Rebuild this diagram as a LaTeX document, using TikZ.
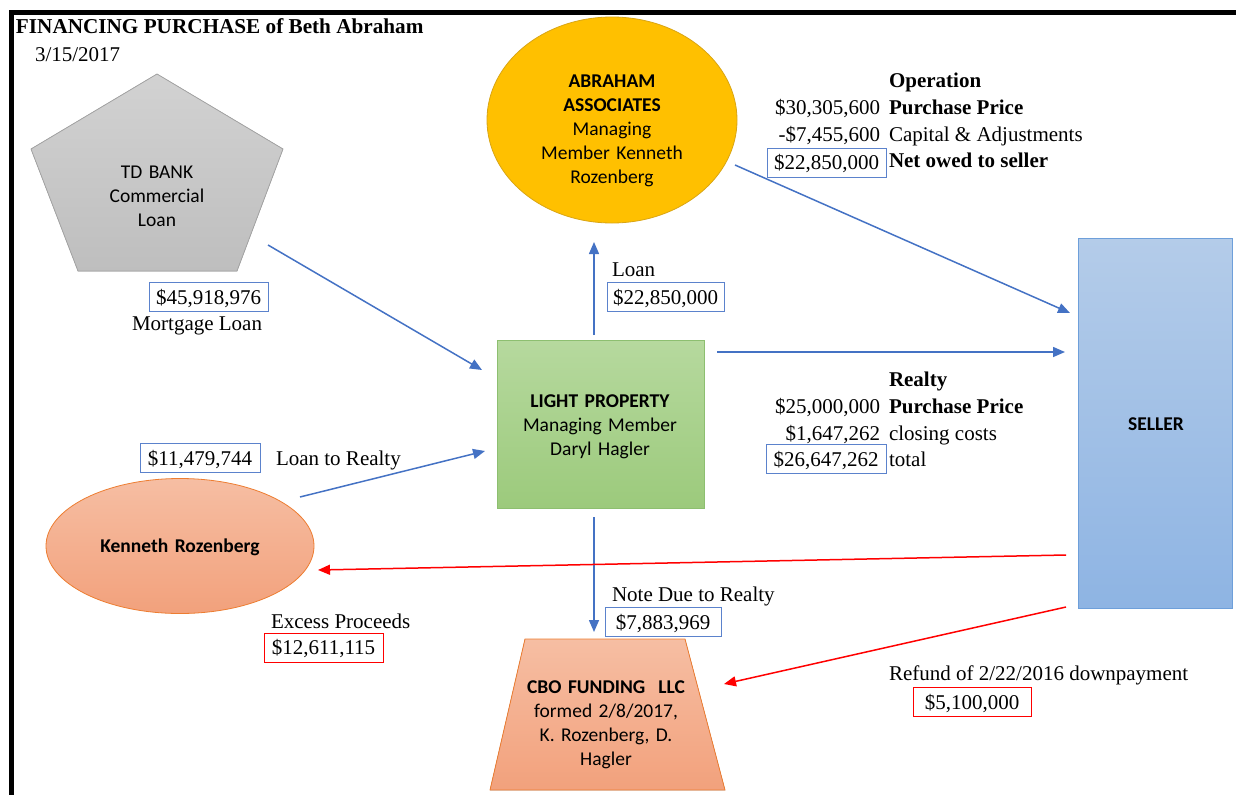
\documentclass[tikz,border=0pt]{standalone}
\usepackage{fontspec}
\setmainfont{Liberation Serif}
\newfontfamily\calfont[WordSpace=0.75]{Carlito}
\usetikzlibrary{arrows.meta,shapes.geometric,calc}
\definecolor{arrblue}{HTML}{4472C4}
\definecolor{boxblue}{HTML}{5B82CC}
\definecolor{tdtop}{HTML}{D2D2D2}
\definecolor{tdbot}{HTML}{BEBEBE}
\definecolor{tdedge}{HTML}{A5A5A5}
\definecolor{abfill}{HTML}{FFC000}
\definecolor{abedge}{HTML}{D9A514}
\definecolor{lptop}{HTML}{B6D99E}
\definecolor{lpbot}{HTML}{9CCA7C}
\definecolor{lpedge}{HTML}{8DBF70}
\definecolor{seltop}{HTML}{B4CCE9}
\definecolor{selbot}{HTML}{8EB4E3}
\definecolor{seledge}{HTML}{6E9FDA}
\definecolor{saltop}{HTML}{F6BEA3}
\definecolor{salbot}{HTML}{F2A17C}
\definecolor{saledge}{HTML}{ED7D31}
\begin{document}
\begin{tikzpicture}[x=1pt,y=-1pt,
  every node/.style={inner sep=0pt, outer sep=0pt},
  tx/.style={font=\fontsize{21}{24}\selectfont},
  txb/.style={font=\fontsize{21}{24}\selectfont\bfseries},
  cal/.style={font=\calfont\fontsize{19.5}{24}\selectfont, text width=260pt, align=center, anchor=base},
  flow/.style={draw=arrblue, line width=1.5pt, -{Triangle[length=12pt,width=10pt]}},
  redflow/.style={draw=red, line width=1.5pt, -{Triangle[length=12pt,width=10pt]}},
  valbox/.style={draw=boxblue, line width=0.9pt, tx, text height=14pt, text depth=0pt, minimum height=29pt},
  redbox/.style={valbox, draw=red}
]
\useasboundingbox (0,0) rectangle (1236,795);
% frame
\fill[black] (9,10) rectangle (1236,15);
\fill[black] (9,10) rectangle (14,795);

% title
\node[anchor=base west, font=\fontsize{21.2}{24}\selectfont\bfseries] (title) at (16,33) {FINANCING PURCHASE of Beth Abraham};
\node[anchor=base west, tx] (date) at (35,61) {3/15/2017};

% TD BANK pentagon
\coordinate (tdN) at (157,74);
\coordinate (tdR) at (283,149);
\coordinate (tdBR) at (237,271);
\coordinate (tdBL) at (78,271);
\coordinate (tdL) at (31,149);
\filldraw[draw=tdedge, line width=0.8pt, top color=tdtop, bottom color=tdbot] (tdN) -- (tdR) -- (tdBR) -- (tdBL) -- (tdL) -- cycle;
\node[cal] (td) at (157,178) {TD BANK\\Commercial\\Loan};

% Abraham Associates
\node[ellipse, minimum width=250pt, minimum height=206pt, draw=abedge, line width=0.8pt, fill=abfill] (ab) at (612,120) {};
\node[cal] (abt) at (612,87) {\textbf{ABRAHAM}\\\textbf{ASSOCIATES}\\Managing\\Member Kenneth\\Rozenberg};

% Light Property
\node[rectangle, minimum width=207pt, minimum height=168pt, draw=lpedge, line width=0.8pt, top color=lptop, bottom color=lpbot] (lp) at (600.5,424) {};
\node[cal] (lpt) at (600,407) {\textbf{LIGHT PROPERTY}\\Managing Member\\Daryl Hagler};

% Seller
\node[rectangle, minimum width=154pt, minimum height=370pt, draw=seledge, line width=0.8pt, top color=seltop, bottom color=selbot] (sel) at (1155,423) {};
\node[cal] (selt) at (1156,430) {\textbf{SELLER}};

% Kenneth Rozenberg
\node[ellipse, minimum width=268pt, minimum height=135pt, draw=saledge, line width=0.8pt, top color=saltop, bottom color=salbot] (kr) at (180,546) {};
\node[cal] (krt) at (180,552) {\textbf{Kenneth Rozenberg}};

% CBO Funding trapezoid
\coordinate (cboTL) at (525,639);
\coordinate (cboTR) at (685,639);
\coordinate (cboBR) at (725,790);
\coordinate (cboBL) at (490,790);
\coordinate (cbotop) at (605,639);
\filldraw[draw=saledge, line width=0.8pt, top color=saltop, bottom color=salbot] (cboTL) -- (cboTR) -- (cboBR) -- (cboBL) -- cycle;
\node[cal] (cbo) at (606,693) {\textbf{CBO FUNDING\ \ LLC}\\formed 2/8/2017,\\K. Rozenberg, D.\\Hagler};

% TD labels
\node[valbox, minimum width=119pt] (v1) at (208.5,297) {\$45,918,976};
\node[anchor=base west, tx] (l1) at (132,330) {Mortgage Loan};

% Loan labels
\node[anchor=base west, tx] (l2) at (612,276) {Loan};
\node[valbox, minimum width=117pt] (v2) at (665.5,297) {\$22,850,000};

% Operation block
\node[anchor=base west, txb] (op0) at (889,87) {Operation};
\node[anchor=base east, tx] (op1n) at (880,114) {\$30,305,600};
\node[anchor=base west, txb] (op1l) at (889,114) {Purchase Price};
\node[anchor=base east, tx] (op2n) at (880,141) {-\$7,455,600};
\node[anchor=base west, tx] (op2l) at (889,141) {Capital \& Adjustments};
\node[valbox, minimum width=119pt] (op3n) at (826.5,162.5) {\$22,850,000};
\node[anchor=base west, txb] (op3l) at (889,167) {Net owed to seller};

% Realty block
\node[anchor=base west, txb] (re0) at (889,386) {Realty};
\node[anchor=base east, tx] (re1n) at (880,413) {\$25,000,000};
\node[anchor=base west, txb] (re1l) at (889,413) {Purchase Price};
\node[anchor=base east, tx] (re2n) at (880,440) {\$1,647,262};
\node[anchor=base west, tx] (re2l) at (889,440) {closing costs};
\node[valbox, minimum width=120pt] (re3n) at (826,459) {\$26,647,262};
\node[anchor=base west, tx] (re3l) at (889,466) {total};

% Kenneth labels
\node[valbox, minimum width=120pt] (v3) at (200,458) {\$11,479,744};
\node[anchor=base west, tx] (l3) at (276,465) {Loan to Realty};
\node[anchor=base west, tx] (l4) at (271,628) {Excess Proceeds};
\node[redbox, minimum width=119pt] (v4) at (323.5,647.5) {\$12,611,115};

% Note due
\node[anchor=base west, tx] (l5) at (612,601) {Note Due to Realty};
\node[valbox, minimum width=116pt] (v5) at (663,622) {\$7,883,969};

% Refund
\node[anchor=base west, tx] (l6) at (889,680) {Refund of 2/22/2016 downpayment};
\node[redbox, minimum width=118pt] (v6) at (972,702) {\$5,100,000};

% connectors
\draw[flow] ($(tdBR)+(31,-26)$) -- ($(lp.west)+(-15,-54)$);
\draw[flow] ($(lp.north)+(-6.5,-5)$) -- ($(ab.south)+(-18,19)$);
\draw[flow] ($(ab.center)+(123,45)$) -- ($(sel.west)+(-8,-110)$);
\draw[flow] ($(lp.east)+(13,-72)$) -- ($(sel.west)+(-13,-71)$);
\draw[flow] ($(kr.center)+(120,-49)$) -- ($(lp.west)+(-12,27)$);
\draw[flow] ($(lp.south)+(-6.5,9)$) -- ($(cbotop)+(-11,-7)$);
\draw[redflow] ($(sel.west)+(-12,132)$) -- ($(kr.east)+(4,24)$);
\draw[redflow] ($(sel.south west)+(-12,-1)$) -- ($(cbotop)+(119,45)$);
\end{tikzpicture}
\end{document}
